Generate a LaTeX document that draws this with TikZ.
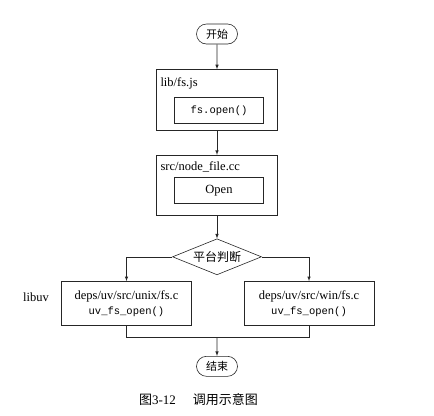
\documentclass[tikz,border=0pt]{standalone}
\usepackage{fontspec}
\setmainfont{Liberation Serif}
\setmonofont{Liberation Mono}
\newfontfamily\cjk{Noto Sans CJK SC}
\newcommand\codefont{\ttfamily\fontsize{10.5bp}{15bp}\selectfont}
\usetikzlibrary{arrows,positioning,shapes.geometric,shapes.misc}

\begin{document}
\begin{tikzpicture}[x=1bp, y=-1bp, ->,>=latex, line width=0.6bp, draw=black!85, term node/.style={rounded rectangle, draw, minimum width=43bp, minimum height=20bp, inner sep=1bp, font=\cjk\fontsize{11bp}{13bp}\selectfont}, outer box/.style={rectangle, draw, minimum width=121bp}, inner box/.style={rectangle, draw, minimum width=89bp, minimum height=26bp, inner sep=1bp}, label text/.style={inner sep=0pt, font=\fontsize{12.5bp}{15bp}\selectfont}, decide node/.style={diamond, draw, aspect=2.47, minimum width=89bp, minimum height=36bp, inner sep=0.5bp, font=\cjk\fontsize{12bp}{14bp}\selectfont}, branch node/.style={rectangle, draw, align=center, minimum width=130bp, minimum height=44bp, font=\fontsize{12.5bp}{15bp}\selectfont}]
\useasboundingbox (0,0) rectangle (434,415);

\node [term node] (start) at (217,34) {开始};
\node [outer box, minimum height=61bp, below=25bp of start] (fsjs) {};
\node [label text, below right=8bp and 4bp of fsjs.north west] (fsjslabel) {lib/fs.js};
\node [inner box, below right=28bp and 18bp of fsjs.north west] (fsopen) {\codefont fs.open()};
\node [outer box, minimum height=60bp, below=24bp of fsjs] (nodefile) {};
\node [label text, below right=6bp and 4bp of nodefile.north west] (nodefilelabel) {src/node\_file.cc};
\node [inner box, below right=22bp and 18bp of nodefile.north west, font=\fontsize{12.5bp}{15bp}\selectfont] (open) {Open};
\node [decide node, below=23bp of nodefile] (platform) {平台判断};
\node [branch node, below=6bp of platform.south, xshift=-90.5bp] (unix) {deps/uv/src/unix/fs.c\\{\codefont uv\_fs\_open()}};
\node [branch node, below=6bp of platform.south, xshift=92bp] (win) {deps/uv/src/win/fs.c\\{\codefont uv\_fs\_open()}};
\node [label text, left=12bp of unix, yshift=6bp] (libuv) {libuv};
\coordinate (join) at (217,337);
\node [term node, below=19bp of join] (finish) {结束};
\node [inner sep=0pt, font=\fontsize{13bp}{15bp}\selectfont] (caption) at (198.5,400) {{\cjk 图}3-12\hspace{1.3em}{\cjk 调用示意图}};

\draw (start) -- (fsjs);
\draw (fsjs) -- (nodefile);
\draw (nodefile) -- (platform);
\draw (platform.west) -| (unix.north);
\draw (platform.east) -| (win.north);
\draw[-] (unix.south) |- (join);
\draw[-] (win.south) |- (join);
\draw (join) -- (finish);
\end{tikzpicture}
\end{document}
